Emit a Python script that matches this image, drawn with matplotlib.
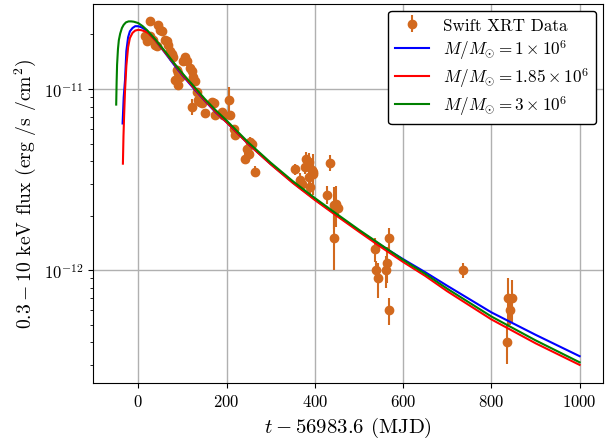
import matplotlib
matplotlib.use("Agg")
import matplotlib.pyplot as plt
import numpy as np

plt.rcParams['font.family'] = 'serif'
plt.rcParams['font.serif'] = ['cmr10', 'DejaVu Serif']
plt.rcParams['mathtext.fontset'] = 'cm'
plt.rcParams['axes.formatter.use_mathtext'] = True
plt.rcParams['axes.unicode_minus'] = False

# Swift XRT data
obs_t = [26.6, 45.5, 49.0, 53.0, 15.2, 18.9, 26.6, 34.0, 38.0, 41.6,
         60.7, 64.5, 68.0, 72.0, 76.0, 79.5, 106.0, 102.0, 110.0, 117.5,
         87.0, 91.0, 94.8, 83.4, 91.0, 121.0, 125.0, 129.0, 133.0,
         121.0, 136.0, 140.0, 144.0, 151.6, 166.6, 170.5, 174.3, 189.3, 193.0,
         205.0, 208.4, 216.0, 220.0, 246.0, 253.9, 250.0, 242.5, 257.5, 263.6,
         356.0, 367.0, 371.0, 380.0, 386.0, 377.0, 396.0, 394.0, 397.0, 386.0,
         388.0, 434.0, 428.0, 443.0, 447.0, 453.0, 443.0,
         536.0, 539.0, 544.0, 561.0, 564.0, 567.0, 569.0,
         735.0, 838.6, 846.0, 842.0, 836.0]
obs_flux = [2.38e-11, 2.26e-11, 2.12e-11, 2.08e-11, 1.95e-11, 1.83e-11, 1.95e-11, 1.87e-11, 1.75e-11, 1.72e-11,
            1.87e-11, 1.83e-11, 1.75e-11, 1.61e-11, 1.55e-11, 1.51e-11, 1.51e-11, 1.42e-11, 1.42e-11, 1.30e-11,
            1.27e-11, 1.22e-11, 1.17e-11, 1.12e-11, 1.05e-11, 1.25e-11, 1.17e-11, 1.10e-11, 9.6e-12,
            8.0e-12, 8.69e-12, 8.51e-12, 8.34e-12, 7.33e-12, 8.51e-12, 8.34e-12, 7.18e-12, 7.5e-12, 7.18e-12,
            8.7e-12, 7.2e-12, 6.05e-12, 5.56e-12, 4.69e-12, 5.1e-12, 4.4e-12, 4.13e-12, 5.0e-12, 3.5e-12,
            3.6e-12, 3.13e-12, 3.0e-12, 4.09e-12, 3.95e-12, 3.71e-12, 3.5e-12, 3.56e-12, 3.41e-12, 3.27e-12,
            2.88e-12, 3.91e-12, 2.61e-12, 2.28e-12, 2.32e-12, 2.2e-12, 1.50e-12,
            1.31e-12, 1.0e-12, 0.9e-12, 1.0e-12, 1.10e-12, 1.50e-12, 6.0e-13,
            1.0e-12, 7.0e-13, 7.0e-13, 6.0e-13, 4.0e-13]
obs_err = [0.8e-12, 0.8e-12, 0.8e-12, 0.8e-12, 0.7e-12, 0.7e-12, 0.7e-12, 0.7e-12, 0.7e-12, 0.7e-12,
           0.7e-12, 0.7e-12, 0.7e-12, 0.6e-12, 0.6e-12, 0.6e-12, 0.6e-12, 0.6e-12, 0.6e-12, 0.5e-12,
           0.5e-12, 0.5e-12, 0.5e-12, 0.5e-12, 0.5e-12, 0.5e-12, 0.5e-12, 0.5e-12, 0.5e-12,
           0.85e-12, 0.4e-12, 0.4e-12, 0.4e-12, 0.4e-12, 0.4e-12, 0.4e-12, 0.4e-12, 0.4e-12, 0.4e-12,
           1.6e-12, 0.35e-12, 0.3e-12, 0.3e-12, 0.3e-12, 0.3e-12, 0.3e-12, 0.3e-12, 0.3e-12, 0.25e-12,
           0.25e-12, 0.3e-12, 0.25e-12, 0.4e-12, 0.5e-12, 0.3e-12, 0.9e-12, 0.3e-12, 0.3e-12, 0.3e-12,
           0.25e-12, 0.4e-12, 0.3e-12, 0.6e-12, 0.6e-12, 0.2e-12, 0.5e-12,
           0.2e-12, 0.12e-12, 0.2e-12, 0.2e-12, 0.25e-12, 0.2e-12, 1.0e-13,
           0.1e-12, 0.2e-12, 0.18e-12, 0.1e-12, 0.95e-13]

# Model light curves
t_m1 = [-35.5, -33, -30, -27, -23, -19, -13, -7, 0, 5, 10, 20, 40, 60, 80, 100, 125, 150, 175,
        200, 250, 300, 350, 400, 450, 500, 550, 600, 650, 700, 800, 900, 1000]
f_m1 = [6.45e-12, 9.0e-12, 1.12e-11, 1.62e-11, 1.93e-11, 2.08e-11, 2.17e-11, 2.22e-11, 2.22e-11, 2.20e-11,
        2.17e-11, 2.09e-11, 1.84e-11, 1.59e-11, 1.37e-11, 1.19e-11, 1.01e-11, 8.65e-12, 7.45e-12,
        6.55e-12, 4.95e-12, 3.85e-12, 3.05e-12, 2.46e-12, 2.01e-12, 1.65e-12, 1.37e-12, 1.15e-12,
        9.75e-13, 8.2e-13, 5.85e-13, 4.4e-13, 3.35e-13]

t_m2 = [-34.8, -33.5, -32, -30, -27, -23, -19, -13, -7, 0, 7, 15, 23, 40, 60, 80, 100, 125, 150, 175,
        200, 250, 300, 350, 400, 450, 500, 550, 600, 650, 700, 800, 900, 1000]
f_m2 = [3.87e-12, 5.5e-12, 7.2e-12, 9.8e-12, 1.34e-11, 1.70e-11, 1.91e-11, 2.04e-11, 2.10e-11, 2.12e-11,
        2.11e-11, 2.08e-11, 2.03e-11, 1.84e-11, 1.60e-11, 1.39e-11, 1.20e-11, 1.02e-11, 8.7e-12, 7.5e-12,
        6.55e-12, 4.95e-12, 3.84e-12, 3.03e-12, 2.44e-12, 1.99e-12, 1.63e-12, 1.34e-12, 1.11e-12,
        9.3e-13, 7.65e-13, 5.35e-13, 3.95e-13, 3.0e-13]

t_m3 = [-50, -49, -48, -46, -44, -41, -37, -33, -28, -22, -16, -10, 0, 10, 20, 40, 60, 80, 100, 125, 150, 175,
        200, 250, 300, 350, 400, 450, 500, 550, 600, 650, 700, 800, 900, 1000]
f_m3 = [8.2e-12, 1.1e-11, 1.36e-11, 1.66e-11, 1.86e-11, 2.02e-11, 2.17e-11, 2.26e-11, 2.33e-11, 2.36e-11, 2.36e-11,
        2.35e-11, 2.31e-11, 2.22e-11, 2.11e-11, 1.86e-11, 1.62e-11, 1.40e-11, 1.22e-11, 1.04e-11, 8.85e-12, 7.65e-12,
        6.7e-12, 5.05e-12, 3.92e-12, 3.1e-12, 2.5e-12, 2.04e-12, 1.67e-12, 1.38e-12, 1.14e-12,
        9.55e-13, 7.9e-13, 5.55e-13, 4.1e-13, 3.1e-13]

labels = ['Swift XRT Data', r'$M/M_{\odot} = 1 \times 10^6$',
          r'$M/M_{\odot} = 1.85 \times 10^6$', r'$M/M_{\odot} = 3 \times 10^6$']
x_ticks = [0, 200, 400, 600, 800, 1000]
y_ticks = [1e-12, 1e-11]

fig = plt.figure(figsize=(6.12, 4.39), dpi=100)
ax = fig.add_axes([0.152, 0.125, 0.833, 0.864])

eb = ax.errorbar(obs_t, obs_flux, yerr=obs_err, fmt='o', color='chocolate',
                 markersize=6, elinewidth=1.5, capsize=0, zorder=2)
l1, = ax.plot(t_m1, f_m1, color='blue', lw=1.5, zorder=3)
l2, = ax.plot(t_m2, f_m2, color='red', lw=1.5, zorder=3)
l3, = ax.plot(t_m3, f_m3, color='green', lw=1.5, zorder=3)

ax.set_yscale('log')
ax.set_xlim(-102.5, 1052.5)
ax.set_ylim(2.38e-13, 2.95e-11)
ax.set_xticks(x_ticks)
ax.set_yticks(y_ticks)
ax.grid(True, which='major', color='#b0b0b0', lw=1.0)
ax.set_axisbelow(True)
ax.tick_params(labelsize=12)
ax.set_xlabel(r'$t - 56983.6$ (MJD)', fontsize=15)
ax.set_ylabel(r'$0.3 - 10$ keV flux (erg /s /cm$^2$)', fontsize=14.2)

leg = ax.legend([eb, l1, l2, l3], labels, loc='upper right', fontsize=12.3,
                framealpha=1, fancybox=True, labelspacing=0.25, borderaxespad=0.4)
leg.get_frame().set_edgecolor('black')

fig.savefig('out.png', dpi=100)
